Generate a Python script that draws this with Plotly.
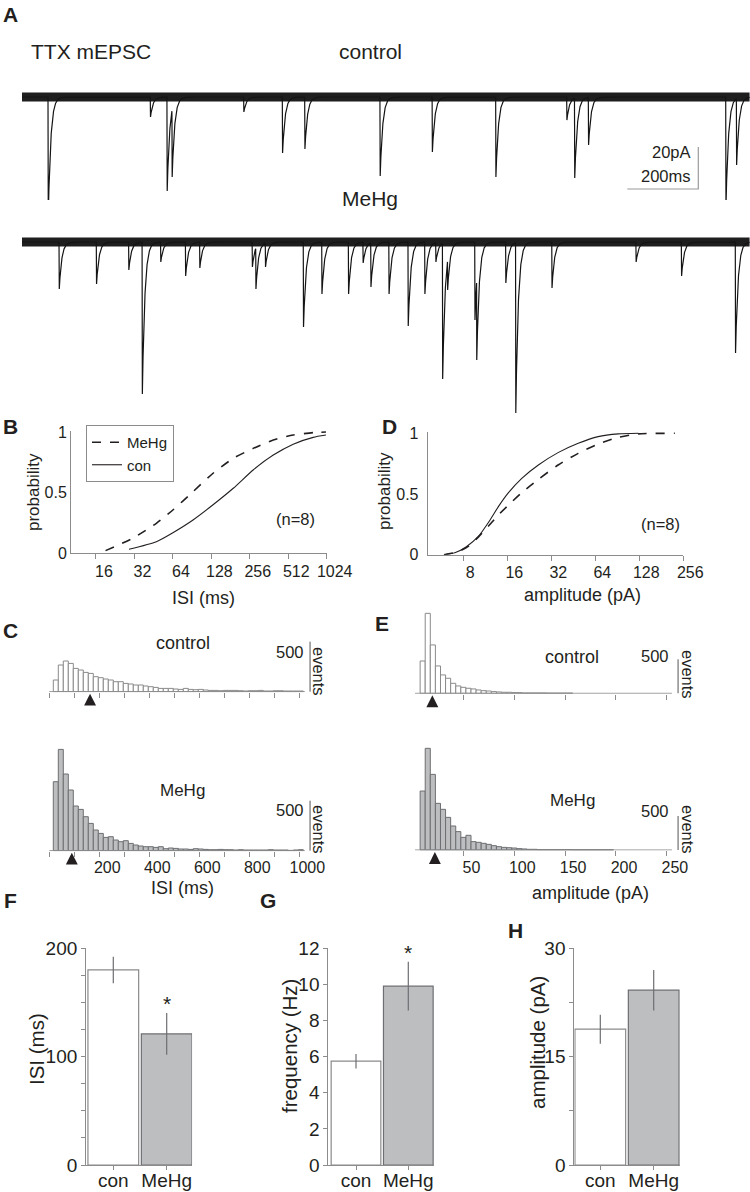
import numpy as np
import plotly.graph_objects as go

W, H = 750, 1192
FONT = "Liberation Sans, Arial, Helvetica, sans-serif"
INK = "#231f20"
AXC = "#8c8c8c"
TRACE = "#141414"
GRAY_BAR = "#bcbec0"
EDGE_LIGHT = "#8a8a8a"
EDGE_DARK = "#6d6e71"
L2 = np.log10(2)

# ---------------- Panel A : mEPSC events ----------------
trace_duration_ms = 2050
ctrl_event_t = [74, 362, 409, 423, 625, 734, 797, 1009, 1156, 1335, 1535, 1557, 1596, 1983, 2013]
ctrl_event_amp = [57.1, 9.5, 44.8, 38.1, 7.1, 26.7, 24.8, 37.6, 26.2, 38.1, 11.0, 38.6, 22.9, 52.4, 32.4]
mehg_event_t = [105, 210, 301, 339, 391, 461, 501, 649, 659, 686, 793, 845, 920, 961, 983,
                1034, 1088, 1135, 1166, 1185, 1199, 1276, 1281, 1363, 1391, 1493, 1730, 1858, 2010]
mehg_event_amp = [22.4, 20.0, 13.3, 72.4, 9.5, 16.2, 12.4, 11.9, 22.4, 11.9, 40.5, 24.8, 24.8, 10.0, 21.4,
                  24.8, 40.0, 24.8, 9.5, 65.2, 22.9, 37.1, 56.2, 19.5, 81.4, 21.9, 9.5, 16.2, 52.9]
scalebar_ms = 200
scalebar_pA = 20

# ---------------- Panel B : cumulative ISI ----------------
isi_ms_mehg = [19, 31, 47.5, 64, 92, 132, 190, 272, 391, 560, 803, 1010]
isi_cdf_mehg = [0.022, 0.124, 0.247, 0.357, 0.508, 0.66, 0.783, 0.865, 0.934, 0.975, 0.995, 1.0]
isi_ms_con = [29, 47.5, 64, 92, 132, 190, 272, 391, 560, 803, 1010]
isi_cdf_con = [0.033, 0.096, 0.17, 0.275, 0.40, 0.536, 0.687, 0.81, 0.90, 0.956, 0.975]
isi_ticks = [16, 32, 64, 128, 256, 512, 1024]

# ---------------- Panel D : cumulative amplitude ----------------
amp_pa_con = [5.9, 7.0, 8.4, 10.1, 12.2, 13.9, 16.3, 20.1, 26.1, 35.6, 48.9, 67, 92, 126]
amp_cdf_con = [0, 0.016, 0.066, 0.148, 0.286, 0.396, 0.511, 0.629, 0.739, 0.841, 0.918, 0.973, 0.995, 1.0]
amp_pa_mehg = [5.9, 7.4, 8.7, 10.1, 11.9, 13.9, 16.3, 20.1, 26.1, 35.6, 48.9, 67, 92, 126, 224]
amp_cdf_mehg = [0, 0.025, 0.071, 0.143, 0.236, 0.327, 0.409, 0.511, 0.621, 0.739, 0.835, 0.912, 0.967, 0.995, 1.0]
amp_ticks = [8, 16, 32, 64, 128, 256]

# ---------------- Panel C : ISI histograms (20 ms bins) ----------------
isi_bin_width = 20
isi_bin_centers = list(range(26, 1026, 20))
isi_hist_con = [117, 267, 307, 283, 233, 217, 193, 183, 150, 140, 127, 117, 100, 100, 83, 77, 67, 67, 57, 50,
                43, 33, 33, 33, 27, 23, 33, 23, 20, 23, 17, 13, 13, 10, 13, 13, 13, 10, 7, 10,
                10, 13, 7, 7, 10, 10, 7, 7, 7, 7]
isi_hist_mehg = [690, 1013, 767, 607, 447, 413, 340, 273, 207, 173, 133, 140, 107, 90, 100, 73, 57, 47, 40, 40,
                 33, 40, 20, 27, 23, 17, 17, 13, 20, 17, 13, 10, 10, 13, 10, 10, 7, 10, 7, 7,
                 7, 7, 7, 10, 7, 7, 7, 3, 7, 10]
isi_axis_ms = [0, 1022]
isi_hist_ticks = list(range(0, 1001, 100))
isi_hist_labels = ["", "", "200", "", "400", "", "600", "", "800", "", "1000"]
isi_arrow_con = 163
isi_arrow_mehg = 90

# ---------------- Panel E : amplitude histograms (5 pA bins) ----------------
amp_bin_width = 5
amp_hist_con = [475, 1176, 711, 402, 270, 221, 147, 108, 88, 74, 64, 49, 39, 34, 25, 20, 15, 15, 10, 10,
                5, 5, 5, 5, 5, 3, 3, 3, 3, 3]
amp_hist_mehg = [867, 1495, 1112, 686, 598, 480, 353, 270, 186, 216, 123, 113, 98, 83, 64, 49, 39, 34, 29, 20,
                 15, 10, 10, 5, 5, 5, 5, 5, 5, 5, 3, 3, 3, 3, 3, 3, 3, 3]
amp_bin_centers_con = [10 + 5 * i for i in range(len(amp_hist_con))]
amp_bin_centers_mehg = [10 + 5 * i for i in range(len(amp_hist_mehg))]
amp_axis_pa = [2.5, 255]
amp_hist_ticks = [50, 100, 150, 200, 250]
amp_arrow_con = 19.5
amp_arrow_mehg = 22
events_scale = 500

# ---------------- Panels F, G, H : summary bars ----------------
groups = ["con", "MeHg"]
isi_mean = [180, 121]
isi_se = [12.3, 19.2]
freq_mean = [5.75, 9.9]
freq_se = [0.4, 1.35]
ampl_mean = [18.8, 24.2]
ampl_se = [2.0, 2.8]
signif_isi = ["", "*"]
signif_freq = ["", "*"]

# ============================================================================
def xd(px0, px1):
    return [px0 / W, px1 / W]


def yd(top, bot):
    return [1 - bot / H, 1 - top / H]


def P(px, py):
    return px / W, 1 - py / H


annotations = []


def label(text, px, py, size, xanchor="center", yanchor="middle", angle=0, bold=False):
    x, y = P(px, py)
    annotations.append(dict(text=f"<b>{text}</b>" if bold else text, x=x, y=y, xref="paper", yref="paper",
                            showarrow=False, xanchor=xanchor, yanchor=yanchor, textangle=angle, borderpad=0,
                            font=dict(size=size, family=FONT, color=INK)))


def axis(**kw):
    d = dict(showgrid=False, zeroline=False, fixedrange=True, automargin=False, linecolor=AXC, linewidth=1,
             tickcolor=AXC, tickwidth=1, tickfont=dict(family=FONT, size=16, color=INK))
    d.update(kw)
    return d


def synth(ts, amps, dur, dt=0.25, tau=7.0, rise=0.75):
    t = np.arange(0, dur + dt, dt)
    depth = np.zeros_like(t)
    for t0, a in zip(ts, amps):
        k = np.zeros_like(t)
        m = t >= t0
        k[m] = a * np.exp(-(t[m] - t0) / tau)
        r = (t >= t0 - rise) & (t < t0)
        k[r] = a * (t[r] - (t0 - rise)) / rise
        depth = np.maximum(depth, k)
    return t, -depth


fig = go.Figure()
L = {}

# ---------------- Panel A ----------------
A_PPM = 0.355   # px per ms
A_PPA = 2.1     # px per pA
A_X0 = 22
for idx, (ts, amps, base, top, bot) in enumerate([
        (ctrl_event_t, ctrl_event_amp, 97, 40, 232),
        (mehg_event_t, mehg_event_amp, 242, 200, 420)]):
    xa = "x" if idx == 0 else "x2"
    ya = "y" if idx == 0 else "y2"
    t, y = synth(ts, amps, trace_duration_ms)
    fig.add_trace(go.Scatter(x=[t[0], t[-1]], y=[0, 0], mode="lines", line=dict(color="#1e1e1e", width=9),
                             xaxis=xa, yaxis=ya, showlegend=False, hoverinfo="skip"))
    fig.add_trace(go.Scatter(x=t, y=y, mode="lines", line=dict(color=TRACE, width=1.2),
                             xaxis=xa, yaxis=ya, showlegend=False, hoverinfo="skip"))
    kx = "xaxis" if idx == 0 else "xaxis2"
    ky = "yaxis" if idx == 0 else "yaxis2"
    L[kx] = dict(domain=xd(A_X0, A_X0 + trace_duration_ms * A_PPM), range=[0, trace_duration_ms],
                 visible=False, fixedrange=True, automargin=False, anchor=ya)
    L[ky] = dict(domain=yd(top, bot), range=[-(bot - base) / A_PPA, (base - top) / A_PPA],
                 visible=False, fixedrange=True, automargin=False, anchor=xa)

# scale bar (in trace units)
sb_t = (698.3 - A_X0) / A_PPM
sb_y = -(189 - 97) / A_PPA
fig.add_trace(go.Scatter(x=[sb_t - scalebar_ms, sb_t, sb_t], y=[sb_y, sb_y, sb_y + scalebar_pA],
                         mode="lines", line=dict(color="#9a9a9a", width=1.2), xaxis="x", yaxis="y",
                         showlegend=False, hoverinfo="skip"))

label("A", 10, 15, 21, bold=True)
label("TTX mEPSC", 30, 52, 21, xanchor="left")
label("control", 370, 52, 21)
label("MeHg", 370, 198, 21)
label("20pA", 692, 152, 16.5, xanchor="right")
label("200ms", 692, 176, 16.5, xanchor="right")

# ---------------- Panel B ----------------
fig.add_trace(go.Scatter(x=isi_ms_mehg, y=isi_cdf_mehg, mode="lines", name="MeHg",
                         line=dict(color=INK, width=1.6, dash="dash", shape="spline", smoothing=0.6),
                         xaxis="x3", yaxis="y3", hoverinfo="skip"))
fig.add_trace(go.Scatter(x=isi_ms_con, y=isi_cdf_con, mode="lines", name="con",
                         line=dict(color=INK, width=1.1, shape="spline", smoothing=0.6),
                         xaxis="x3", yaxis="y3", hoverinfo="skip"))
L["xaxis3"] = axis(type="log", domain=xd(71, 326.7), range=[3.350 * L2, 10 * L2], anchor="y3",
                   tickvals=isi_ticks, ticktext=[str(v) for v in isi_ticks], ticks="outside", ticklen=5,
                   showline=True, ticklabelshift=8, ticklabelstandoff=-2)
L["yaxis3"] = axis(domain=yd(430.8, 553.3), range=[0, 1.01], anchor="x3", tickvals=[0, 0.5, 1],
                   ticktext=["0", "0.5", "1"], ticks="", showline=True)
label("B", 10, 426, 21, bold=True)
label("probability", 33, 492, 17, angle=-90)
label("ISI (ms)", 203, 598, 18)
label("(n=8)", 295, 519, 16.5)

# ---------------- Panel D ----------------
fig.add_trace(go.Scatter(x=amp_pa_mehg, y=amp_cdf_mehg, mode="lines", name="MeHg", showlegend=False,
                         line=dict(color=INK, width=1.6, dash="dash", shape="spline", smoothing=0.6),
                         xaxis="x4", yaxis="y4", hoverinfo="skip"))
fig.add_trace(go.Scatter(x=amp_pa_con, y=amp_cdf_con, mode="lines", name="con", showlegend=False,
                         line=dict(color=INK, width=1.1, shape="spline", smoothing=0.6),
                         xaxis="x4", yaxis="y4", hoverinfo="skip"))
L["xaxis4"] = axis(type="log", domain=xd(427.7, 683.3), range=[2.191 * L2, 8 * L2], anchor="y4",
                   tickvals=amp_ticks, ticktext=[str(v) for v in amp_ticks], ticks="outside", ticklen=5,
                   showline=True, ticklabelshift=7, ticklabelstandoff=-2)
L["yaxis4"] = axis(domain=yd(432.1, 554.7), range=[0, 1.01], anchor="x4", tickvals=[0, 0.5, 1],
                   ticktext=["0", "0.5", "1"], ticks="", showline=True, ticklabelstandoff=5)
label("D", 389, 426, 21, bold=True)
label("probability", 384, 491, 17, angle=-90)
label("amplitude (pA)", 582, 595, 18)
label("(n=8)", 660, 524, 16.5)


# ---------------- Histograms (C, E) ----------------
def hist_panel(n, centers, counts, width, fill, edge, x_zero_px, ppu_x, xr, base_px, ppu_y, yr,
               axis_ext, ticks, ticklabels, arrow_x, sb_x):
    xa, ya = f"x{n}", f"y{n}"
    fig.add_trace(go.Bar(x=centers, y=counts, width=width, marker=dict(color=fill, line=dict(color=edge, width=1)),
                         xaxis=xa, yaxis=ya, showlegend=False, hoverinfo="skip"))
    fig.add_trace(go.Scatter(x=axis_ext, y=[0, 0], mode="lines", line=dict(color=AXC, width=1),
                             xaxis=xa, yaxis=ya, showlegend=False, hoverinfo="skip"))
    fig.add_trace(go.Scatter(x=[sb_x, sb_x], y=[0, events_scale], mode="lines", line=dict(color="#555555", width=1),
                             xaxis=xa, yaxis=ya, showlegend=False, hoverinfo="skip"))
    L[f"xaxis{n}"] = axis(domain=xd(x_zero_px + xr[0] * ppu_x, x_zero_px + xr[1] * ppu_x), range=xr, anchor=ya,
                          tickvals=ticks, ticktext=ticklabels if ticklabels else None,
                          showticklabels=bool(ticklabels), ticks="outside", ticklen=5, showline=False,
                          ticklabelshift=8, ticklabelstandoff=-3)
    L[f"yaxis{n}"] = dict(domain=yd(base_px - yr[1] * ppu_y, base_px - yr[0] * ppu_y), range=yr,
                          visible=False, fixedrange=True, automargin=False, anchor=xa)
    annotations.append(dict(text="", x=arrow_x, y=0, xref=xa, yref=ya, showarrow=True, ax=0, ay=13,
                            arrowhead=2, arrowsize=1.7, arrowwidth=1.4, arrowcolor=INK, standoff=2))


hist_panel(5, isi_bin_centers, isi_hist_con, isi_bin_width, "#ffffff", EDGE_LIGHT, 49.3, 0.25, [-2, 1050],
           691.7, 0.1, [-5, 520], isi_axis_ms, isi_hist_ticks, None, isi_arrow_con, 1043)
hist_panel(6, isi_bin_centers, isi_hist_mehg, isi_bin_width, GRAY_BAR, EDGE_DARK, 49.3, 0.25, [-2, 1050],
           850.7, 0.1, [-5, 1060], isi_axis_ms, isi_hist_ticks, isi_hist_labels, isi_arrow_mehg, 1043)
hist_panel(7, amp_bin_centers_con, amp_hist_con, amp_bin_width, "#ffffff", EDGE_LIGHT, 412.5, 1.0175, [2, 266],
           693.3, 0.068, [-7, 1250], amp_axis_pa, amp_hist_ticks, None, amp_arrow_con, 261)
hist_panel(8, amp_bin_centers_mehg, amp_hist_mehg, amp_bin_width, GRAY_BAR, EDGE_DARK, 412.5, 1.0175, [2, 266],
           850.0, 0.068, [-7, 1550], amp_axis_pa, amp_hist_ticks, [str(v) for v in amp_hist_ticks],
           amp_arrow_mehg, 261)

label("C", 10, 630, 21, bold=True)
label("control", 183, 643, 18)
label("MeHg", 182, 790, 17)
label("500", 305, 652, 16.5, xanchor="right")
label("events", 319, 671, 16.5, angle=90)
label("500", 305, 810, 16.5, xanchor="right")
label("events", 319, 829, 16.5, angle=90)
label("ISI (ms)", 182, 888, 18)

label("E", 382, 623, 21, bold=True)
label("control", 572, 657, 18)
label("MeHg", 572, 800, 17)
label("500", 670, 656, 16.5, xanchor="right")
label("events", 688, 674, 16.5, angle=90)
label("500", 670, 811, 16.5, xanchor="right")
label("events", 688, 829, 16.5, angle=90)
label("amplitude (pA)", 590, 893, 18)


# ---------------- Bars (F, G, H) ----------------
def bar_panel(n, means, ses, center_px, ppu_x, xr, yr, yticks, yticklabels, stars):
    xa, ya = f"x{n}", f"y{n}"
    fig.add_trace(go.Bar(x=[0, 1], y=means, width=0.95,
                         marker=dict(color=["#ffffff", GRAY_BAR], line=dict(color=[EDGE_LIGHT, EDGE_DARK], width=1.2)),
                         error_y=dict(type="data", array=ses, visible=True, color="#6d6e71", thickness=1.2, width=0),
                         xaxis=xa, yaxis=ya, showlegend=False, hoverinfo="skip"))
    L[f"xaxis{n}"] = axis(domain=xd(center_px + xr[0] * ppu_x, center_px + xr[1] * ppu_x), range=xr, anchor=ya,
                          tickvals=[0, 1], ticktext=groups, ticks="outside", ticklen=4, showline=True,
                          tickfont=dict(family=FONT, size=19, color=INK), ticklabelstandoff=-6)
    L[f"yaxis{n}"] = axis(domain=yd(948.3, 1165), range=yr, anchor=xa, tickvals=yticks, ticktext=yticklabels,
                          ticks="outside", ticklen=4, showline=True,
                          tickfont=dict(family=FONT, size=19, color=INK))
    if stars:
        for i, s in enumerate(stars):
            if s:
                annotations.append(dict(text=s, x=i, y=means[i] + ses[i], xref=xa, yref=ya, showarrow=False,
                                        yanchor="bottom", yshift=-4, font=dict(size=21, family=FONT, color=INK)))


bar_panel(9, isi_mean, isi_se, 113.3, 53.4, [-0.51, 1.475], [0, 200],
          list(range(0, 201, 25)), ["0", "", "", "", "100", "", "", "", "200"], signif_isi)
bar_panel(10, freq_mean, freq_se, 356.0, 52.3, [-0.53, 1.50], [0, 12],
          list(range(0, 13, 2)), [str(v) for v in range(0, 13, 2)], signif_freq)
bar_panel(11, ampl_mean, ampl_se, 600.3, 53.4, [-0.487, 1.49], [0, 30],
          [0, 7.5, 15, 22.5, 30], ["0", "", "15", "", "30"], None)

label("F", 10, 900, 21, bold=True)
label("G", 268, 900, 21, bold=True)
label("H", 515, 930, 21, bold=True)
label("ISI (ms)", 36, 1049, 20.5, angle=-90)
label("frequency (Hz)", 289, 1046, 20.5, angle=-90)
label("amplitude (pA)", 537, 1043, 20.5, angle=-90)

fig.update_layout(
    width=W, height=H, autosize=False,
    margin=dict(l=0, r=0, t=0, b=0, pad=0, autoexpand=False),
    paper_bgcolor="white", plot_bgcolor="white",
    font=dict(family=FONT, color=INK, size=16),
    showlegend=True,
    legend=dict(x=86 / W, y=1 - 425 / H, xanchor="left", yanchor="top", bordercolor="#8c8c8c", borderwidth=1,
                bgcolor="white", font=dict(size=15, family=FONT, color=INK), tracegroupgap=0, itemwidth=30),
    annotations=annotations,
    **L,
)

fig.write_html("out.html", config={"responsive": False, "displayModeBar": False},
               post_script="document.body.style.margin='0';document.body.style.overflow='hidden';")
